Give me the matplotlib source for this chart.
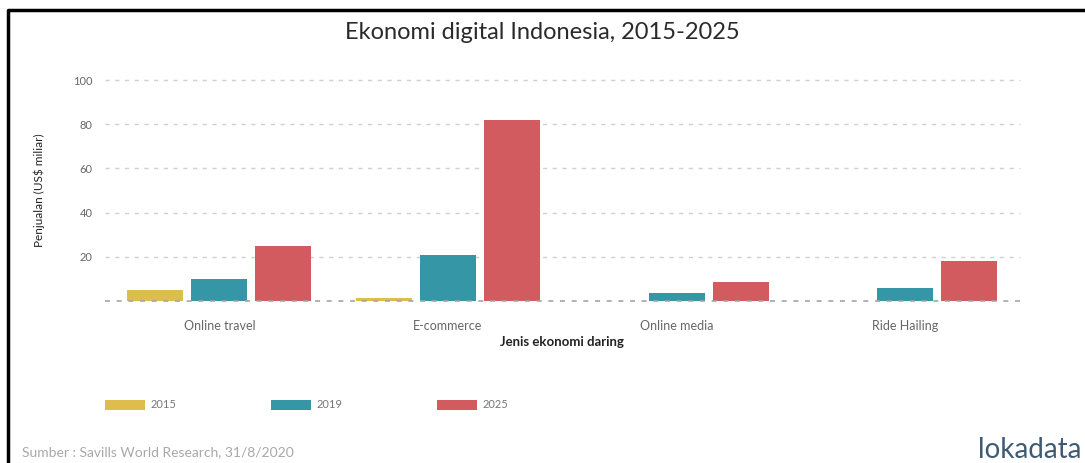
import matplotlib
matplotlib.use('Agg')
import matplotlib.pyplot as plt
from matplotlib.patches import Patch
from matplotlib.lines import Line2D
import numpy as np

# Penjualan ekonomi digital Indonesia (US$ miliar)
categories = ['Online travel', 'E-commerce', 'Online media', 'Ride Hailing']
years = ['2015', '2019', '2025']
sales_2015 = [5, 1.5, 0, 0]
sales_2019 = [10, 21, 3.5, 6]
sales_2025 = [25, 82, 8.5, 18]
y_ticks = [20, 40, 60, 80, 100]

colors = ['#DDBD4C', '#3596A6', '#D25B5F']
font = ['Lato', 'DejaVu Sans']
plt.rcParams['font.family'] = font

fig = plt.figure(figsize=(10.85, 4.63), dpi=100)
ax = fig.add_axes([0.0968, 0.350, 0.843, 0.477])

x = np.arange(len(categories))
slot = 0.28
width = 0.245
series = [sales_2015, sales_2019, sales_2025]
for i, (vals, c) in enumerate(zip(series, colors)):
    ax.bar(x + (i - 1) * slot, vals, width=width, color=c, zorder=2)

ax.set_xlim(-0.5, len(categories) - 0.5)
ax.set_ylim(0, 100)
ax.set_yticks(y_ticks)
ax.set_yticklabels([str(t) for t in y_ticks])
ax.set_xticks(x)
ax.set_xticklabels(categories)
ax.tick_params(axis='both', length=0, labelcolor='#666666')
ax.tick_params(axis='x', pad=14, labelsize=9)
ax.tick_params(axis='y', pad=9, labelsize=8)

# dotted gridlines + dashed zero line
for t in y_ticks:
    ax.axhline(t, color='#d0d0d0', linewidth=1.0, linestyle=(0, (3, 4)),
               zorder=1, clip_on=False)
ax.axhline(0, color='#a5a5a5', linewidth=1.2, linestyle=(0, (3, 4)),
           zorder=3, clip_on=False)

for s in ax.spines.values():
    s.set_visible(False)

ax.set_ylabel('Penjualan (US$ miliar)', fontsize=8.5, color='#222222')
ax.yaxis.set_label_coords(-0.066, 0.5)
ax.set_xlabel('Jenis ekonomi daring', fontsize=9.5, color='#222222',
              fontweight='bold')
ax.xaxis.set_label_coords(0.5, -0.186)
ax.xaxis.label.set_va('center')

fig.text(0.5, 0.929, 'Ekonomi digital Indonesia, 2015-2025', ha='center',
         va='center', fontsize=17, color='#2a2a2a')

handles = [Patch(facecolor=c, edgecolor='none') for c in colors]
fig.legend(handles, years, loc='center left', ncol=3,
           bbox_to_anchor=(105 / 1085, 1 - 405 / 463), frameon=False,
           fontsize=8, labelcolor='#777777', handlelength=3.6,
           handleheight=1.0, handletextpad=0.5, columnspacing=8.5,
           borderpad=0, borderaxespad=0)

fig.text(22 / 1085, 1 - 452 / 463, 'Sumber : Savills World Research, 31/8/2020',
         ha='left', va='center', fontsize=10, color='#a8a8a8')
fig.text(1081 / 1085, 1 - 450 / 463, 'lokadata', ha='right', va='center',
         fontsize=20, color='#3f5b73')

# outer frame (top and left edges)
fig.add_artist(Line2D([8 / 1085, 8 / 1085, 1.0], [0.0, 1 - 10 / 463, 1 - 10 / 463],
                      transform=fig.transFigure, color='black', linewidth=2.5))

fig.savefig('out.png', dpi=100)
plt.close(fig)
